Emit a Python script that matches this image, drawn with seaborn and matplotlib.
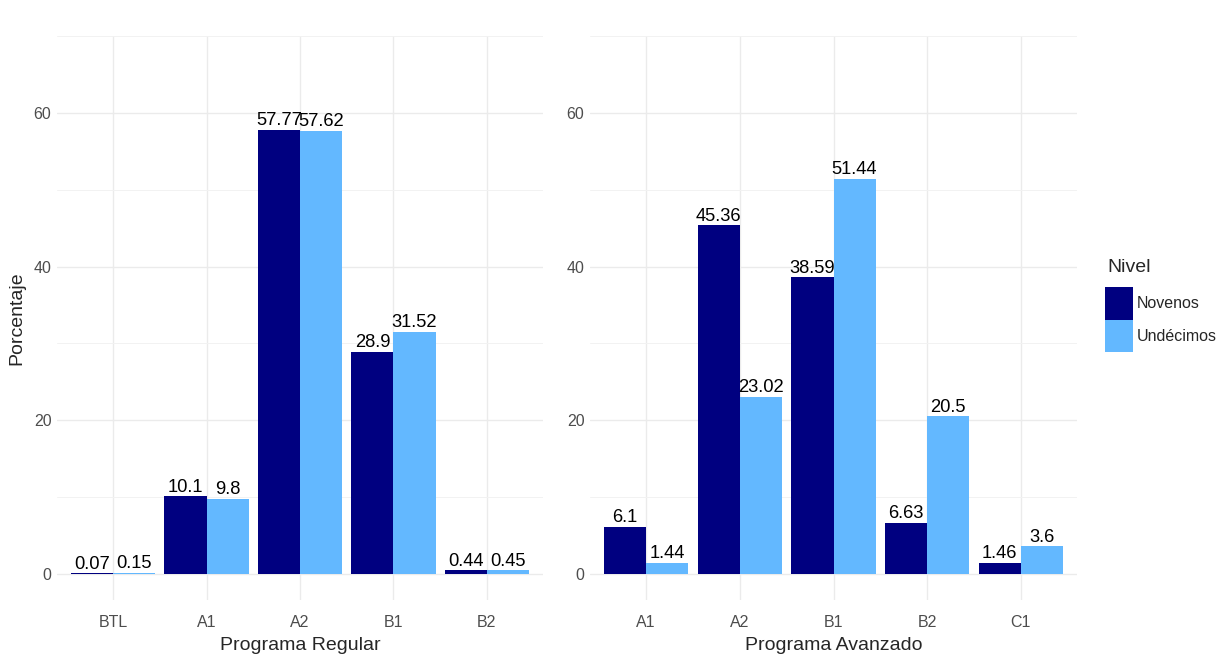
import matplotlib

matplotlib.use("Agg")
import matplotlib.pyplot as plt  # noqa: E402
import pandas as pd  # noqa: E402
import seaborn as sns  # noqa: E402
from matplotlib.ticker import MultipleLocator  # noqa: E402

# data
niveles = ["Novenos", "Undécimos"]
regular_cats = ["BTL", "A1", "A2", "B1", "B2"]
regular_novenos = [0.07, 10.1, 57.77, 28.9, 0.44]
regular_undecimos = [0.15, 9.8, 57.62, 31.52, 0.45]
avanzado_cats = ["A1", "A2", "B1", "B2", "C1"]
avanzado_novenos = [6.1, 45.36, 38.59, 6.63, 1.46]
avanzado_undecimos = [1.44, 23.02, 51.44, 20.5, 3.6]

colors = {"Novenos": "#000080", "Undécimos": "#63B8FF"}

sns.set_style("white")
plt.rcParams["font.family"] = ["Liberation Sans", "DejaVu Sans"]


def long_frame(cats, nov, und):
    return pd.DataFrame({
        "cat": cats * 2,
        "Nivel": [niveles[0]] * len(cats) + [niveles[1]] * len(cats),
        "pct": list(nov) + list(und),
    })


def draw_panel(ax, df, cats, xlabel, show_ylabel, legend):
    sns.barplot(data=df, x="cat", y="pct", hue="Nivel", order=cats,
                hue_order=niveles, palette=colors, width=0.9, gap=0,
                saturation=1, errorbar=None, legend=legend, linewidth=0, ax=ax)
    for cont in ax.containers:
        ax.bar_label(cont, labels=[f"{b.get_height():g}" for b in cont],
                     padding=0.5, fontsize=13.2, color="black")
    ax.set_ylim(-3.4, 70)
    ax.set_xlim(-0.6, len(cats) - 0.4)
    ax.yaxis.set_major_locator(MultipleLocator(20))
    ax.yaxis.set_minor_locator(MultipleLocator(10))
    ax.set_yticks([0, 20, 40, 60])
    ax.grid(which="major", color="#EBEBEB", lw=1.0)
    ax.grid(which="minor", axis="y", color="#F2F2F2", lw=0.7)
    ax.set_axisbelow(True)
    for s in ax.spines.values():
        s.set_visible(False)
    ax.tick_params(which="both", length=0, labelsize=11.5, labelcolor="#4D4D4D", pad=4)
    ax.tick_params(axis="x", pad=11)
    ax.set_xlabel(xlabel, fontsize=14, labelpad=5)
    ax.set_ylabel("Porcentaje" if show_ylabel else "", fontsize=14, labelpad=6)


fig = plt.figure(figsize=(12.25, 6.58), dpi=100)
W, H = 1225, 658
bottom, top = 600, 36
ax1 = fig.add_axes([57 / W, (H - bottom) / H, 486 / W, (bottom - top) / H])
ax2 = fig.add_axes([590 / W, (H - bottom) / H, 487 / W, (bottom - top) / H])

draw_panel(ax1, long_frame(regular_cats, regular_novenos, regular_undecimos),
           regular_cats, "Programa Regular", True, False)
draw_panel(ax2, long_frame(avanzado_cats, avanzado_novenos, avanzado_undecimos),
           avanzado_cats, "Programa Avanzado", False, True)

handles, labels = ax2.get_legend_handles_labels()
ax2.get_legend().remove()
fig.text(1107 / W, 1 - 267 / H, "Nivel", fontsize=14, va="center", ha="left")
leg = fig.legend(handles, labels, loc="upper left",
                 bbox_to_anchor=(1099 / W, 1 - 281 / H), frameon=False,
                 fontsize=11.5, handlelength=1.75, handleheight=2.75,
                 labelspacing=0.0, handletextpad=0.2, borderaxespad=0)

fig.savefig("out.png", dpi=100)
